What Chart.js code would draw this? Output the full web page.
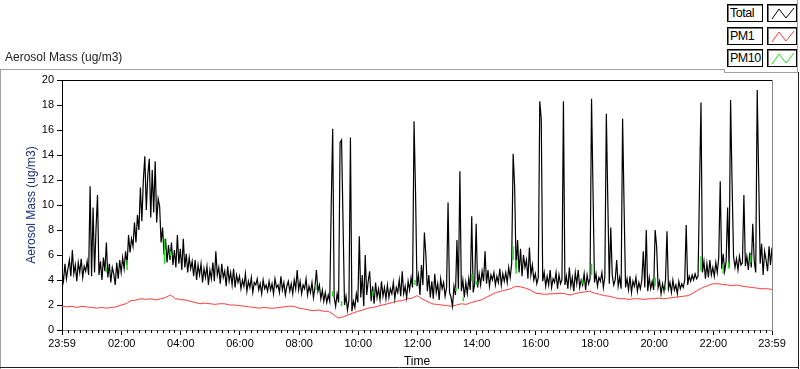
<!DOCTYPE html>
<html>
<head>
<meta charset="utf-8">
<script src="https://cdn.jsdelivr.net/npm/chart.js@4.4.1/dist/chart.umd.min.js"></script>
<style>
  html, body { margin: 0; padding: 0; background: #fff; }
  #wrap { position: relative; width: 800px; height: 369px; overflow: hidden; font-family: 'Liberation Sans', Arial, sans-serif; }
  #graph { position: absolute; left: 0; top: 0; }
  #title { position: absolute; left: 5px; top: 50px; font-size: 12px; line-height: 14px; color: #1e1e1e; }
  .lg-name { position: absolute; left: 727px; width: 36px; height: 18px; box-sizing: border-box; border: 1px solid #000; box-shadow: inset 1px 1px 0 #777; font-size: 12.5px; line-height: 16px; padding-left: 2px; letter-spacing: -0.5px; color: #000; background: #fff; white-space: nowrap; }
  .lg-line { position: absolute; left: 767px; width: 30px; height: 18px; box-sizing: border-box; border: 1px solid #000; box-shadow: inset 1px 1px 0 #777; background: #fff; }
  .lg-line svg { position: absolute; left: 0; top: 0; }
</style>
</head>
<body>
<div id="wrap">
  <canvas id="graph" width="800" height="369"></canvas>
  <div id="title">Aerosol Mass (ug/m3)</div>
  <div id="legend"></div>
</div>
<script>
// Total aerosol mass, one reading every 3 minutes from 23:59 (one row = one hour)
const totalValues = [
  4.6, 3.9, 5.3, 4.1, 4.9, 5.6, 4.3, 6.4, 4.5, 5.2, 3.9, 5.4, 4.6, 5.7, 4.2, 5.1, 4.7, 5.5, 4.4, 11.5,
  4.3, 9.8, 4.6, 8.1, 10.8, 4.4, 5.5, 4.0, 5.8, 4.7, 7.0, 4.2, 5.3, 3.8, 5.0, 4.5, 3.6, 5.4, 4.1, 5.6,
  4.6, 5.8, 4.9, 6.3, 5.2, 7.6, 6.2, 7.3, 6.7, 8.6, 7.0, 9.2, 8.0, 11.4, 8.7, 12.0, 13.9, 9.6, 12.4, 13.7,
  9.0, 12.8, 9.4, 13.5, 8.6, 10.5, 9.9, 7.0, 8.2, 6.0, 7.3, 5.4, 6.8, 5.6, 7.0, 5.2, 6.4, 5.0, 7.6, 5.3,
  6.5, 4.8, 7.3, 5.0, 6.1, 4.6, 5.8, 4.9, 5.5, 4.3, 5.6, 4.0, 5.2, 4.4, 5.3, 3.8, 4.9, 4.2, 5.1, 3.6,
  4.8, 4.1, 5.4, 3.9, 6.3, 4.4, 5.0, 3.7, 5.3, 4.2, 4.7, 3.5, 5.1, 3.9, 4.6, 3.6, 4.9, 3.4, 4.4, 3.8,
  4.3, 3.3, 4.0, 3.5, 4.5, 3.1, 3.9, 3.4, 4.2, 3.0, 3.8, 3.6, 4.1, 3.2, 3.7, 2.9, 4.0, 3.3, 3.6, 3.1,
  3.9, 3.2, 3.7, 2.9, 4.1, 3.4, 3.6, 3.0, 4.3, 3.2, 3.8, 2.8, 3.5, 3.9, 3.1, 3.7, 2.9, 4.0, 3.3, 4.8,
  3.2, 3.9, 2.9, 3.6, 3.3, 4.1, 2.8, 3.5, 3.0, 3.8, 2.6, 3.4, 4.8, 3.1, 3.6, 2.5, 3.2, 2.3, 3.0, 2.2,
  2.8, 2.3, 9.9, 16.1, 2.6, 1.9, 2.9, 2.2, 15.0, 15.2, 8.6, 2.0, 2.7, 1.6, 2.4, 15.4, 1.5, 2.3, 1.8, 2.9,
  2.2, 7.5, 2.6, 4.4, 1.9, 6.0, 2.8, 3.9, 4.7, 2.3, 3.5, 2.1, 3.8, 2.6, 3.3, 2.4, 3.9, 2.7, 3.4, 2.5,
  3.6, 2.6, 3.3, 2.9, 3.8, 2.5, 3.4, 3.0, 4.0, 2.7, 4.7, 2.9, 3.5, 2.6, 3.9, 3.2, 4.2, 3.4, 16.7, 11.1,
  3.5, 4.4, 2.8, 5.2, 3.6, 7.8, 6.0, 3.1, 4.4, 2.6, 3.9, 2.5, 4.5, 3.0, 3.7, 2.4, 4.1, 3.3, 3.8, 2.7,
  3.4, 10.2, 3.0, 2.6, 1.9, 3.5, 2.8, 7.2, 3.3, 12.7, 3.1, 4.0, 2.6, 3.8, 2.9, 4.1, 3.2, 9.1, 3.0, 3.7,
  8.5, 3.4, 4.5, 3.6, 4.7, 3.9, 6.3, 3.7, 4.8, 3.5, 4.4, 4.0, 4.6, 3.6, 4.3, 3.8, 4.9, 3.6, 4.5, 3.9,
  4.6, 3.8, 5.0, 4.2, 5.3, 14.1, 11.5, 4.9, 7.2, 4.6, 6.5, 4.3, 6.0, 5.0, 5.6, 4.1, 6.6, 4.4, 5.2, 4.0,
  4.5, 3.7, 4.2, 18.3, 16.9, 3.9, 4.6, 3.5, 4.3, 3.6, 4.8, 3.4, 4.1, 3.8, 4.6, 3.3, 4.4, 3.7, 4.0, 18.3,
  3.6, 4.3, 3.3, 5.0, 3.5, 4.2, 3.1, 4.6, 3.7, 4.8, 3.4, 4.0, 3.6, 4.5, 3.2, 4.4, 3.7, 4.1, 18.5, 11.1,
  3.8, 4.5, 3.5, 4.2, 3.9, 4.6, 3.4, 4.3, 17.3, 10.3, 3.7, 8.2, 4.4, 3.6, 4.0, 5.6, 3.5, 4.2, 3.3, 16.9,
  9.9, 3.4, 4.1, 3.2, 4.3, 3.0, 3.9, 3.5, 4.2, 3.1, 3.8, 3.3, 4.0, 6.3, 3.4, 8.0, 3.1, 4.2, 3.3, 3.9,
  3.2, 8.0, 6.7, 3.4, 3.9, 2.9, 3.7, 3.1, 4.0, 7.9, 3.3, 3.8, 3.0, 4.0, 3.2, 3.6, 2.9, 3.9, 3.3, 3.7,
  3.4, 4.0, 8.4, 3.6, 4.3, 3.9, 4.4, 4.0, 4.5, 4.1, 4.3, 11.4, 18.2, 4.6, 5.5, 4.1, 5.3, 4.2, 5.6, 4.4,
  5.0, 4.3, 5.4, 4.6, 5.8, 11.9, 4.9, 6.1, 4.7, 5.5, 9.8, 5.0, 18.4, 11.8, 5.9, 5.0, 5.7, 4.8, 5.9, 5.2,
  5.4, 10.8, 5.1, 5.9, 4.8, 6.2, 5.0, 8.5, 5.5, 4.6, 19.2, 12.2, 5.3, 6.9, 4.4, 6.3, 5.6, 4.7, 6.7, 5.2,
  6.6
]
const totalStep = 3

// PM1, one reading every 10 minutes
const pm1Values = [
  1.9, 1.85, 1.9, 1.8, 1.9, 1.85, 1.8, 1.75, 1.8, 1.75,
  1.8, 1.85, 2.0, 2.1, 2.35, 2.4, 2.5, 2.45, 2.5, 2.4,
  2.5, 2.6, 2.8, 2.5, 2.45, 2.4, 2.3, 2.2, 2.1, 2.15,
  2.1, 2.05, 2.1, 2.1, 2.0, 2.0, 1.95, 1.9, 1.85, 1.8,
  1.75, 1.8, 1.75, 1.75, 1.8, 1.85, 1.9, 1.9, 1.75, 1.7,
  1.6, 1.55, 1.6, 1.5, 1.5, 1.25, 0.95, 1.05, 1.2, 1.35,
  1.5, 1.6, 1.75, 1.8, 1.9, 2.0, 2.1, 2.2, 2.3, 2.35,
  2.5, 2.55, 2.75, 2.5, 2.3, 2.1, 2.05, 2.0, 1.95, 1.9,
  2.0, 2.1, 2.05, 2.2, 2.3, 2.4, 2.6, 2.8, 3.0, 3.1,
  3.2, 3.3, 3.5, 3.45, 3.35, 3.2, 2.95, 2.9, 2.85, 2.9,
  2.9, 2.95, 2.9, 2.8, 2.9, 3.0, 3.05, 3.1, 2.95, 2.85,
  2.75, 2.7, 2.6, 2.5, 2.5, 2.45, 2.5, 2.5, 2.45, 2.5,
  2.5, 2.55, 2.5, 2.55, 2.6, 2.65, 2.7, 2.75, 2.95, 3.2,
  3.4, 3.55, 3.7, 3.7, 3.65, 3.6, 3.55, 3.6, 3.5, 3.45,
  3.4, 3.35, 3.3, 3.3, 3.25
]
const pm1Step = 10

// PM10 only shows where it peeks out from under Total (minutes, value; null breaks the line)
const pm10Times = [
  90, 90, null, 132, 132, null, 208, 208, null, 220, 220, null,
  515, 515, null, 549, 549, null, 567, 567, null, 630, 630, null,
  716, 716, null, 799, 799, null, 814, 814, null, 831, 831, null,
  841, 841, null, 915, 915, null, 921, 921, null, 1055, 1055, null,
  1074, 1074, null, 1203, 1203, null, 1224, 1224, null, 1296, 1296, null,
  1341, 1341, null, 1352, 1352, null, 1397, 1397
]
const pm10Values = [
  5.0, 4.6, null, 5.6, 4.8, null, 7.3, 5.3, null, 6.3, 5.9, null,
  3.6, 3.2, null, 3.1, 2.7, null, 2.3, 1.9, null, 3.1, 2.7, null,
  4.0, 3.6, null, 3.4, 3.1, null, 2.6, 2.3, null, 4.5, 3.9, null,
  3.9, 3.6, null, 6.7, 5.6, null, 5.6, 4.5, null, 4.0, 3.7, null,
  5.3, 4.4, null, 4.2, 3.5, null, 3.5, 3.2, null, 5.9, 4.7, null,
  5.3, 4.5, null, 5.4, 4.9, null, 6.0, 5.4
]

const tickMinutes = [0, 121, 241, 361, 481, 601, 721, 841, 961, 1081, 1201, 1321, 1440]
const tickLabels = ['23:59', '02:00', '04:00', '06:00', '08:00', '10:00', '12:00', '14:00', '16:00', '18:00', '20:00', '22:00', '23:59']

const series = [
  {name: 'Total', color: '#000000'},
  {name: 'PM1', color: '#ff3c3c'},
  {name: 'PM10', color: '#1ee01e'}
]

const renderLegend = () => {
  const legend = document.querySelector('#legend')
  const rowTops = [4, 27, 49]
  series.forEach((s, i) => {
    const name = document.createElement('div')
    name.className = 'lg-name'
    name.style.top = rowTops[i] + 'px'
    name.textContent = s.name
    legend.appendChild(name)

    const line = document.createElement('div')
    line.className = 'lg-line'
    line.style.top = rowTops[i] + 'px'
    line.innerHTML = '<svg width="30" height="18"><polyline points="4,14 11,4 18,13 26,3" fill="none" stroke="' + s.color + '" stroke-width="1"/></svg>'
    legend.appendChild(line)
  })
}

const framePlugin = {
  id: 'frame',
  beforeDraw(chart) {
    const ctx = chart.ctx
    ctx.save()
    ctx.fillStyle = '#fff'
    ctx.fillRect(0, 0, chart.width, chart.height)
    ctx.restore()
  },
  afterDraw(chart) {
    const {ctx, chartArea: a} = chart
    const x = chart.scales.x
    ctx.save()
    ctx.lineWidth = 1

    // minor ticks on the time axis
    ctx.strokeStyle = '#000'
    ctx.beginPath()
    for (let t = 12; t < 1440; t += 12) {
      if (tickMinutes.some(m => Math.abs(m - t) < 4)) continue
      const px = Math.round(x.getPixelForValue(t)) + 0.5
      ctx.moveTo(px, a.bottom)
      ctx.lineTo(px, a.bottom + 3)
    }
    ctx.stroke()

    // plot box: top black, right grey
    ctx.beginPath()
    ctx.moveTo(a.left, a.top + 0.5)
    ctx.lineTo(a.right, a.top + 0.5)
    ctx.stroke()
    ctx.strokeStyle = '#8a8a8a'
    ctx.beginPath()
    ctx.moveTo(a.right + 0.5, a.top)
    ctx.lineTo(a.right + 0.5, a.bottom)
    ctx.stroke()

    // outer panel
    ctx.strokeStyle = '#a0a0a0'
    ctx.beginPath()
    ctx.moveTo(0, 69.5)
    ctx.lineTo(724.5, 69.5)
    ctx.lineTo(724.5, 72.5)
    ctx.lineTo(798, 72.5)
    ctx.moveTo(0.5, 69)
    ctx.lineTo(0.5, 369)
    ctx.moveTo(797.5, 0)
    ctx.lineTo(797.5, 72)
    ctx.stroke()
    ctx.strokeStyle = '#202020'
    ctx.beginPath()
    ctx.moveTo(0, 367.5)
    ctx.lineTo(799, 367.5)
    ctx.moveTo(798.5, 72)
    ctx.lineTo(798.5, 369)
    ctx.stroke()
    ctx.restore()
  }
}

const renderGrafico = () => {
  const ctx = document.querySelector('#graph').getContext('2d')
  const font = {family: "'Liberation Sans', Arial, sans-serif", size: 11}

  new Chart(ctx, {
    type: 'line',
    data: {
      datasets: [
        {
          label: 'Total',
          data: totalValues.map((v, i) => ({x: i * totalStep, y: v})),
          borderColor: series[0].color,
          borderWidth: 1.2,
          order: 1
        },
        {
          label: 'PM1',
          data: pm1Values.map((v, i) => ({x: i * pm1Step, y: v})),
          borderColor: series[1].color,
          borderWidth: 1,
          order: 2
        },
        {
          label: 'PM10',
          data: pm10Times.map((t, i) => ({x: t, y: pm10Values[i]})),
          borderColor: series[2].color,
          borderWidth: 1.5,
          spanGaps: false,
          order: 0
        }
      ]
    },
    options: {
      responsive: false,
      animation: false,
      devicePixelRatio: 1,
      layout: {padding: {left: 0, top: 80, right: 28, bottom: 0}},
      elements: {point: {radius: 0}, line: {tension: 0}},
      plugins: {legend: {display: false}, tooltip: {enabled: false}},
      scales: {
        x: {
          type: 'linear',
          min: 0,
          max: 1440,
          afterFit: (scale) => { scale.height = 39 },
          afterBuildTicks: (scale) => { scale.ticks = tickMinutes.map(v => ({value: v})) },
          ticks: {
            autoSkip: false,
            maxRotation: 0,
            padding: 2,
            color: '#000',
            font: font,
            callback: (value) => {
              const k = tickMinutes.indexOf(value)
              return k >= 0 ? tickLabels[k] : ''
            }
          },
          grid: {drawOnChartArea: false, drawTicks: true, tickLength: 5, color: '#000'},
          border: {display: true, color: '#8a8a8a'},
          title: {display: true, text: 'Time', color: '#000', font: {family: font.family, size: 12}, padding: {top: 1, bottom: 0}}
        },
        y: {
          min: 0,
          max: 20,
          afterFit: (scale) => { scale.width = 62 },
          ticks: {stepSize: 2, padding: 3, color: '#000', font: font},
          grid: {drawOnChartArea: false, drawTicks: true, tickLength: 5, color: '#000'},
          border: {display: true, color: '#000'},
          title: {display: true, text: 'Aerosol Mass (ug/m3)', color: '#1f3080', font: {family: font.family, size: 12}, padding: {top: 24, bottom: 0}}
        }
      }
    },
    plugins: [framePlugin]
  })
}

renderLegend()
renderGrafico()
</script>
</body>
</html>
